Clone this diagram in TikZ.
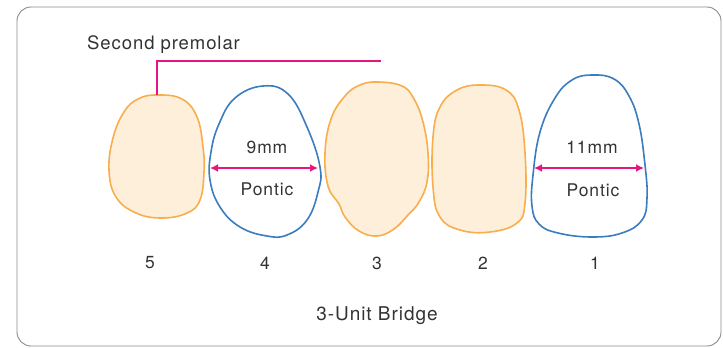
\documentclass[tikz,border=0pt]{standalone}
\usepackage{fontspec}
\setmainfont{TeX Gyre Heros}[LetterSpace=5]
\usetikzlibrary{arrows.meta}
\definecolor{crown}{HTML}{F8AE4C}
\definecolor{crownfill}{HTML}{FDEFD9}
\definecolor{ponticblue}{HTML}{3A7CBF}
\definecolor{marker}{HTML}{E5177E}
\definecolor{txt}{HTML}{333333}
\definecolor{framegray}{HTML}{8A8A8A}

\begin{document}
\begin{tikzpicture}[x=1pt,y=-1pt,every node/.style={font=\fontsize{17.5}{20}\selectfont, text=txt, inner sep=1pt},
	abut/.style={draw=crown, fill=crownfill, line width=1.6pt},
	pontic/.style={draw=ponticblue, line width=1.6pt},
	meas/.style={marker, line width=2pt, {Latex[length=8pt,width=8pt]}-{Latex[length=8pt,width=8pt]}}]
	\useasboundingbox (0,0) rectangle (723,348);
	\draw[framegray, line width=0.9pt, rounded corners=14pt] (17,7) rectangle (721,346);
	% abutments 5, 3, 2
	\draw[abut] plot[smooth cycle, tension=0.7] coordinates {(157,95) (182,99) (197,117) (203,147) (204,172) (200,200) (187,213) (162,218) (136,213) (116,197) (109,170) (113,138) (124,112) (138,99)};
	\draw[abut] plot[smooth cycle, tension=0.7] coordinates {(378,82) (402,86) (414,99) (423,122) (428,153) (427,182) (419,202) (408,215) (394,229) (377,236) (359,231) (345,217) (339,204) (328,186) (325,153) (331,119) (345,96) (360,85)};
	\draw[abut] plot[smooth cycle, tension=0.7] coordinates {(480,85) (506,90) (519,110) (525,153) (525,203) (517,223) (490,232) (460,230) (440,217) (433,187) (433,137) (440,107) (457,90)};
	% pontics 4 and 1
	\draw[pontic] plot[smooth cycle, tension=0.7] coordinates {(263,86) (288,94) (307,127) (320,167) (318,192) (307,220) (287,235) (267,236) (240,227) (220,207) (210,180) (211,152) (219,124) (235,98)};
	\draw[pontic] plot[smooth cycle, tension=0.7] coordinates {(592,75) (614,79) (629,96) (639,124) (645,165) (647,198) (642,220) (622,233) (592,237) (558,233) (539,224) (532,206) (533,175) (540,132) (555,98) (572,80)};
	% mesio-distal widths
	\coordinate (w4a) at (210,168); \coordinate (w4b) at (318,168);
	\coordinate (w1a) at (534,168); \coordinate (w1b) at (644,168);
	\draw[meas] (w4a) -- (w4b);
	\draw[meas] (w1a) -- (w1b);
	\node (mm4) at (267,147) {9mm};
	\node (po4) at (267,189) {Pontic};
	\node (mm1) at (592,147) {11mm};
	\node (po1) at (593,190) {Pontic};
	% leader to the premolar
	\coordinate (t5) at (157,95); \coordinate (lead) at (381,61);
	\draw[marker, line width=1.6pt] (t5) |- (lead);
	\node (sp) [anchor=west, font=\fontsize{18.5}{20}\selectfont] at (86,45) {Second premolar};
	\foreach \n/\x in {5/150, 4/265, 3/377, 2/483, 1/595} {\node (n\n) at (\x,263) {\n};}
	\node (br) [font=\fontsize{19}{20}\selectfont] at (377,316) {3-Unit Bridge};
\end{tikzpicture}
\end{document}
